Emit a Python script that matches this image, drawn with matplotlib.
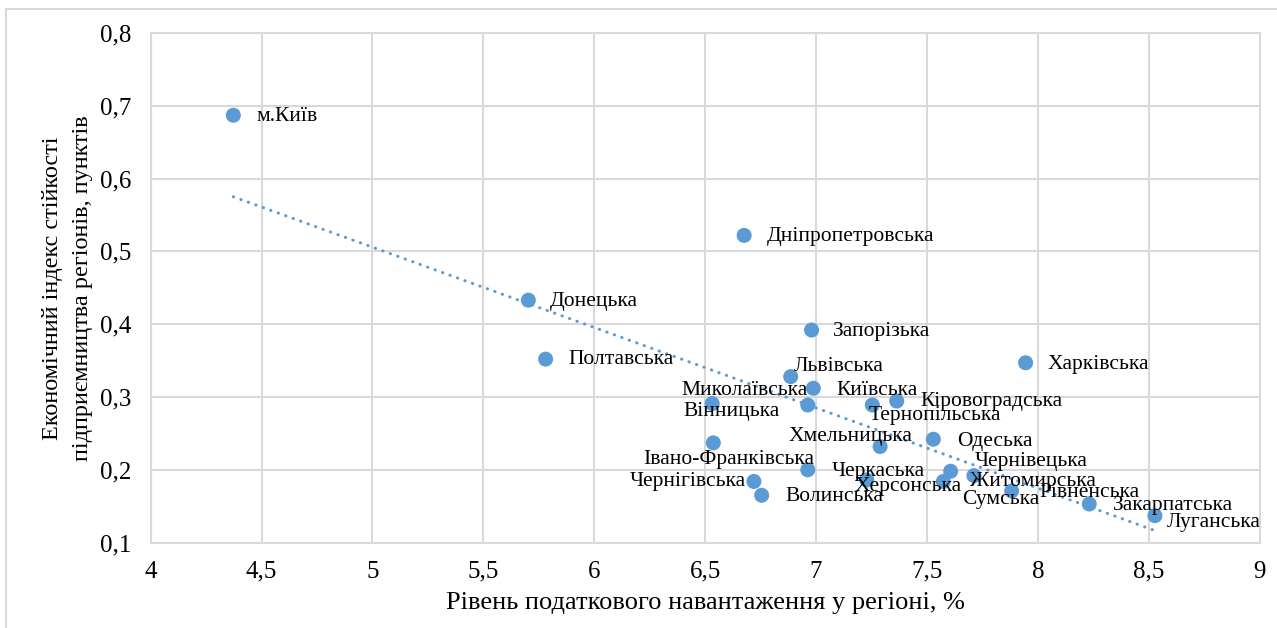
import numpy as np
import matplotlib
matplotlib.use("Agg")
import matplotlib.pyplot as plt

plt.rcParams['font.family'] = ['Liberation Serif', 'DejaVu Serif']

Regiony = ["м.Київ", "Дніпропетровська", "Донецька", "Запорізька", "Полтавська",
           "Харківська", "Львівська", "Київська", "Кіровоградська", "Вінницька",
           "Миколаївська", "Тернопільська", "Хмельницька", "Сумська", "Одеська",
           "Івано-Франківська", "Чернігівська", "Волинська", "Черкаська", "Херсонська",
           "Чернівецька", "Житомирська", "Рівненська", "Закарпатська", "Луганська"]

# рівень податкового навантаження, %
Podatok = [4.373, 6.676, 5.703, 6.980, 5.781,
           7.945, 6.886, 6.988, 7.364, 6.532,
           6.963, 7.254, 7.289, 6.537, 7.529,
           6.963, 6.720, 6.755, 7.229, 7.574,
           7.607, 7.712, 7.882, 8.232, 8.528]

# економічний індекс стійкості
Indeks = [0.687, 0.522, 0.433, 0.392, 0.352,
          0.347, 0.328, 0.312, 0.2945, 0.291,
          0.289, 0.289, 0.232, 0.237, 0.242,
          0.200, 0.184, 0.165, 0.186, 0.184,
          0.198, 0.192, 0.171, 0.153, 0.137]

XTicks = [4, 4.5, 5, 5.5, 6, 6.5, 7, 7.5, 8, 8.5, 9]
YTicks = [0.1, 0.2, 0.3, 0.4, 0.5, 0.6, 0.7, 0.8]

# зсув підписів (пікселі: вправо, вгору)
Zsuv = [(22.7, -1.7), (22.4, -1), (21.7, -1.7), (21.6, -1.7), (22.6, -0.7),
        (22.3, -1.3), (2.6, 10), (23.4, -2.4), (23.3, -0.7), (-29, -8.4),
        (-126, 14.3), (-4, -10), (-91.7, 10), (248.4, -56.6), (23.4, -2.7),
        (-164.4, 10), (-124, 0), (23.3, -1.7), (-35, 8.3), (-88.3, -5),
        (24.3, 9.3), (-4, -5.7), (28.3, -2), (24, -1.7), (11.7, -7.3)]

Azul = "#5B9BD5"
Gris = "#D9D9D9"
Tam = 15.5

fig = plt.figure(figsize=(12.77, 6.28), dpi=100)
ax = fig.add_axes([150.6 / 1277, 1 - 542.6 / 628, 1109 / 1277, 509.6 / 628])

# линия тренда (МНК)
a, b = np.polyfit(Podatok, Indeks, 1)
xt = np.array([min(Podatok), max(Podatok)])
ax.plot(xt, a * xt + b, color=Azul, lw=2.2, linestyle=(0, (0.1, 2.5)),
        dash_capstyle="round", zorder=2)

ax.scatter(Podatok, Indeks, s=117, color=Azul, edgecolors="none", zorder=3)

for nombre, x, y, (dx, dy) in zip(Regiony, Podatok, Indeks, Zsuv):
    ax.annotate(nombre, (x, y), xytext=(dx, dy), textcoords="offset pixels",
                ha="left", va="center", fontsize=Tam, color="black", zorder=4)

ax.set_xlim(4, 9)
ax.set_ylim(0.1, 0.8)
ax.set_xticks(XTicks)
ax.set_yticks(YTicks)
ax.set_xticklabels([("%g" % v).replace(".", ",") for v in XTicks])
ax.set_yticklabels([("%.1f" % v).replace(".", ",") for v in YTicks])
ax.tick_params(length=0, labelsize=18, colors="black")
ax.tick_params(axis="x", pad=13)
ax.tick_params(axis="y", pad=13.5)
ax.grid(True, color=Gris, lw=1.5)
ax.set_axisbelow(True)
for s in ax.spines.values():
    s.set_color(Gris)
    s.set_linewidth(1.5)

ax.set_xlabel("Рівень податкового навантаження у регіоні, %", fontsize=19)
ax.xaxis.set_label_coords(0.5, -0.097)
ax.set_ylabel("Економічний індекс стійкості\nпідприємництва регіонів, пунктів",
              fontsize=17.5, linespacing=1.55)
ax.yaxis.set_label_coords(-0.052, 0.5)

# рамка області діаграми
fig.add_artist(plt.Line2D([5.7 / 1277, 1.0], [1 - 9 / 628, 1 - 9 / 628], color=Gris, lw=1.5))
fig.add_artist(plt.Line2D([5.7 / 1277, 5.7 / 1277], [0, 1 - 9 / 628], color=Gris, lw=1.5))

plt.savefig("out.png", dpi=100)
